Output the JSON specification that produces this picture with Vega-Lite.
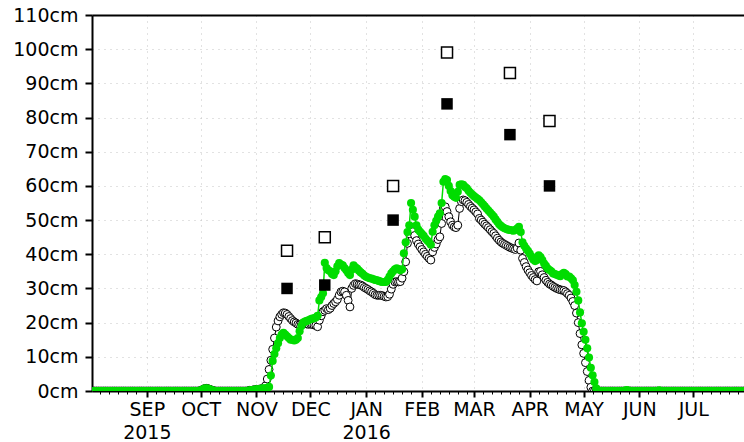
{
"$schema":"https://vega.github.io/schema/vega-lite/v6.json",
"width":652,"height":376,
"autosize":{"type":"none"},
"padding":{"left":92,"top":15,"right":0,"bottom":51},
"background":"white",
"view":{"stroke":null},
"datasets":{
"daily":[
{"t":"2015-08-01","g":0,"b":0},{"t":"2015-08-02","g":0,"b":0},{"t":"2015-08-03","g":0,"b":0},{"t":"2015-08-04","g":0,"b":0},{"t":"2015-08-05","g":0,"b":0},{"t":"2015-08-06","g":0,"b":0},{"t":"2015-08-07","g":0,"b":0},{"t":"2015-08-08","g":0,"b":0},{"t":"2015-08-09","g":0,"b":0},{"t":"2015-08-10","g":0,"b":0},{"t":"2015-08-11","g":0,"b":0},{"t":"2015-08-12","g":0,"b":0},{"t":"2015-08-13","g":0,"b":0},{"t":"2015-08-14","g":0,"b":0},{"t":"2015-08-15","g":0,"b":0},{"t":"2015-08-16","g":0,"b":0},{"t":"2015-08-17","g":0,"b":0},{"t":"2015-08-18","g":0,"b":0},{"t":"2015-08-19","g":0,"b":0},{"t":"2015-08-20","g":0,"b":0},{"t":"2015-08-21","g":0,"b":0},{"t":"2015-08-22","g":0,"b":0},{"t":"2015-08-23","g":0,"b":0},{"t":"2015-08-24","g":0,"b":0},{"t":"2015-08-25","g":0,"b":0},{"t":"2015-08-26","g":0,"b":0},{"t":"2015-08-27","g":0,"b":0},{"t":"2015-08-28","g":0,"b":0},{"t":"2015-08-29","g":0,"b":0},{"t":"2015-08-30","g":0,"b":0},{"t":"2015-08-31","g":0,"b":0},
{"t":"2015-09-01","g":0,"b":0},{"t":"2015-09-02","g":0,"b":0},{"t":"2015-09-03","g":0,"b":0},{"t":"2015-09-04","g":0,"b":0},{"t":"2015-09-05","g":0,"b":0},{"t":"2015-09-06","g":0,"b":0},{"t":"2015-09-07","g":0,"b":0},{"t":"2015-09-08","g":0,"b":0},{"t":"2015-09-09","g":0,"b":0},{"t":"2015-09-10","g":0,"b":0},{"t":"2015-09-11","g":0,"b":0},{"t":"2015-09-12","g":0,"b":0},{"t":"2015-09-13","g":0,"b":0},{"t":"2015-09-14","g":0,"b":0},{"t":"2015-09-15","g":0,"b":0},{"t":"2015-09-16","g":0,"b":0},{"t":"2015-09-17","g":0,"b":0},{"t":"2015-09-18","g":0,"b":0},{"t":"2015-09-19","g":0,"b":0},{"t":"2015-09-20","g":0,"b":0},{"t":"2015-09-21","g":0,"b":0},{"t":"2015-09-22","g":0,"b":0},{"t":"2015-09-23","g":0,"b":0},{"t":"2015-09-24","g":0,"b":0},{"t":"2015-09-25","g":0,"b":0},{"t":"2015-09-26","g":0,"b":0},{"t":"2015-09-27","g":0,"b":0},{"t":"2015-09-28","g":0,"b":0},{"t":"2015-09-29","g":0,"b":0},{"t":"2015-09-30","g":0,"b":0},
{"t":"2015-10-01","g":0.2,"b":0.2},{"t":"2015-10-02","g":0.4,"b":0.4},{"t":"2015-10-03","g":0.7,"b":0.7},{"t":"2015-10-04","g":0.8,"b":0.8},{"t":"2015-10-05","g":0.7,"b":0.7},{"t":"2015-10-06","g":0.5,"b":0.5},{"t":"2015-10-07","g":0.3,"b":0.3},{"t":"2015-10-08","g":0.15,"b":0.15},{"t":"2015-10-09","g":0,"b":0},{"t":"2015-10-10","g":0,"b":0},{"t":"2015-10-11","g":0,"b":0},{"t":"2015-10-12","g":0,"b":0},{"t":"2015-10-13","g":0,"b":0},{"t":"2015-10-14","g":0,"b":0},{"t":"2015-10-15","g":0,"b":0},{"t":"2015-10-16","g":0,"b":0},{"t":"2015-10-17","g":0,"b":0},{"t":"2015-10-18","g":0,"b":0},{"t":"2015-10-19","g":0,"b":0},{"t":"2015-10-20","g":0,"b":0},{"t":"2015-10-21","g":0,"b":0},{"t":"2015-10-22","g":0,"b":0},{"t":"2015-10-23","g":0,"b":0},{"t":"2015-10-24","g":0,"b":0},{"t":"2015-10-25","g":0,"b":0},{"t":"2015-10-26","g":0,"b":0},{"t":"2015-10-27","g":0,"b":0},{"t":"2015-10-28","g":0.2,"b":0.2},{"t":"2015-10-29","g":0.2,"b":0.2},{"t":"2015-10-30","g":0.3,"b":0.3},{"t":"2015-10-31","g":0.4,"b":0.4},
{"t":"2015-11-01","g":0.5,"b":0.5},{"t":"2015-11-02","g":0.5,"b":0.5},{"t":"2015-11-03","g":0.6,"b":0.6},{"t":"2015-11-04","g":0.7,"b":0.7},{"t":"2015-11-05","g":0.8,"b":0.8},{"t":"2015-11-06","g":0.8,"b":1.5},{"t":"2015-11-07","g":0.9,"b":3.5},{"t":"2015-11-08","g":1.2,"b":6.3},{"t":"2015-11-09","g":4.5,"b":9},{"t":"2015-11-10","g":8.8,"b":12.2},{"t":"2015-11-11","g":10.8,"b":15.5},{"t":"2015-11-12","g":12.5,"b":18.7},{"t":"2015-11-13","g":14,"b":20.5},{"t":"2015-11-14","g":15.5,"b":21.7},{"t":"2015-11-15","g":16.5,"b":22.4},{"t":"2015-11-16","g":17,"b":22.9},{"t":"2015-11-17","g":16.5,"b":22.8},{"t":"2015-11-18","g":16,"b":22.4},{"t":"2015-11-19","g":15.5,"b":21.8},{"t":"2015-11-20","g":15,"b":21.2},{"t":"2015-11-21","g":15,"b":20.6},{"t":"2015-11-22","g":14.8,"b":20.2},{"t":"2015-11-23","g":15,"b":19.9},{"t":"2015-11-24","g":15.5,"b":19.5},{"t":"2015-11-25","g":17.5,"b":19.4},{"t":"2015-11-26","g":19,"b":19.6},{"t":"2015-11-27","g":20,"b":19.7},{"t":"2015-11-28","g":20.3,"b":19.7},{"t":"2015-11-29","g":20.5,"b":19.6},{"t":"2015-11-30","g":20.7,"b":19.5},
{"t":"2015-12-01","g":21,"b":19.6},{"t":"2015-12-02","g":21.2,"b":19.5},{"t":"2015-12-03","g":21.3,"b":19.3},{"t":"2015-12-04","g":21.5,"b":19.2},{"t":"2015-12-05","g":22,"b":18.8},{"t":"2015-12-06","g":26.5,"b":20.7},{"t":"2015-12-07","g":27.5,"b":22},{"t":"2015-12-08","g":28.6,"b":23.2},{"t":"2015-12-09","g":37.5,"b":23.6},{"t":"2015-12-10","g":36,"b":24.1},{"t":"2015-12-11","g":35.3,"b":23.8},{"t":"2015-12-12","g":35,"b":24.2},{"t":"2015-12-13","g":34.2,"b":25},{"t":"2015-12-14","g":33.9,"b":25.6},{"t":"2015-12-15","g":35,"b":26.1},{"t":"2015-12-16","g":36.5,"b":26.8},{"t":"2015-12-17","g":37.4,"b":28},{"t":"2015-12-18","g":37,"b":29},{"t":"2015-12-19","g":36.8,"b":29.2},{"t":"2015-12-20","g":36,"b":29},{"t":"2015-12-21","g":35.3,"b":28},{"t":"2015-12-22","g":34.5,"b":26.5},{"t":"2015-12-23","g":33.9,"b":24.6},{"t":"2015-12-24","g":35.5,"b":30},{"t":"2015-12-25","g":36.8,"b":30.9},{"t":"2015-12-26","g":36.2,"b":31.4},{"t":"2015-12-27","g":35.8,"b":31.3},{"t":"2015-12-28","g":35.2,"b":31.1},{"t":"2015-12-29","g":34.7,"b":31},{"t":"2015-12-30","g":34.3,"b":30.7},{"t":"2015-12-31","g":33.8,"b":30.3},
{"t":"2016-01-01","g":33.4,"b":30},{"t":"2016-01-02","g":33.2,"b":29.7},{"t":"2016-01-03","g":33,"b":29.3},{"t":"2016-01-04","g":32.9,"b":29},{"t":"2016-01-05","g":32.7,"b":28.6},{"t":"2016-01-06","g":32.5,"b":28.2},{"t":"2016-01-07","g":32.4,"b":28},{"t":"2016-01-08","g":32.2,"b":28},{"t":"2016-01-09","g":32,"b":28},{"t":"2016-01-10","g":31.9,"b":27.9},{"t":"2016-01-11","g":31.9,"b":27.7},{"t":"2016-01-12","g":31.9,"b":27.5},{"t":"2016-01-13","g":32.5,"b":27.6},{"t":"2016-01-14","g":33.5,"b":28.3},{"t":"2016-01-15","g":34.4,"b":29.8},{"t":"2016-01-16","g":35,"b":31.2},{"t":"2016-01-17","g":35.6,"b":31.9},{"t":"2016-01-18","g":35.9,"b":32},{"t":"2016-01-19","g":35.7,"b":31.9},{"t":"2016-01-20","g":35.3,"b":32},{"t":"2016-01-21","g":35.6,"b":33},{"t":"2016-01-22","g":40.3,"b":34.9},{"t":"2016-01-23","g":43.5,"b":37.8},{"t":"2016-01-24","g":46.5,"b":43.2},{"t":"2016-01-25","g":48.5,"b":46},{"t":"2016-01-26","g":55,"b":48},{"t":"2016-01-27","g":53,"b":46.6},{"t":"2016-01-28","g":51,"b":45.5},{"t":"2016-01-29","g":48.5,"b":44},{"t":"2016-01-30","g":47.2,"b":43},{"t":"2016-01-31","g":46.6,"b":42.2},
{"t":"2016-02-01","g":46,"b":41.4},{"t":"2016-02-02","g":45.4,"b":40.7},{"t":"2016-02-03","g":44.6,"b":40},{"t":"2016-02-04","g":44,"b":39.4},{"t":"2016-02-05","g":43.5,"b":38.8},{"t":"2016-02-06","g":42.8,"b":38.3},{"t":"2016-02-07","g":46.6,"b":40.7},{"t":"2016-02-08","g":48.5,"b":42},{"t":"2016-02-09","g":49.8,"b":43},{"t":"2016-02-10","g":51,"b":44.3},{"t":"2016-02-11","g":52,"b":45.1},{"t":"2016-02-12","g":55,"b":49},{"t":"2016-02-13","g":61.2,"b":53.5},{"t":"2016-02-14","g":62,"b":53.9},{"t":"2016-02-15","g":61.7,"b":52.5},{"t":"2016-02-16","g":60,"b":51},{"t":"2016-02-17","g":58.5,"b":49.5},{"t":"2016-02-18","g":57.3,"b":48.5},{"t":"2016-02-19","g":56.8,"b":48},{"t":"2016-02-20","g":56.5,"b":47.8},{"t":"2016-02-21","g":58.3,"b":48.5},{"t":"2016-02-22","g":60.3,"b":53.4},{"t":"2016-02-23","g":60.5,"b":55.4},{"t":"2016-02-24","g":60.3,"b":55.9},{"t":"2016-02-25","g":59.7,"b":55.7},{"t":"2016-02-26","g":59.3,"b":55.2},{"t":"2016-02-27","g":58.6,"b":54.6},{"t":"2016-02-28","g":58,"b":54},{"t":"2016-02-29","g":57.5,"b":53.5},
{"t":"2016-03-01","g":57,"b":53},{"t":"2016-03-02","g":56.6,"b":52.4},{"t":"2016-03-03","g":56.2,"b":51.8},{"t":"2016-03-04","g":55.8,"b":50.5},{"t":"2016-03-05","g":55.2,"b":50},{"t":"2016-03-06","g":54.6,"b":49.4},{"t":"2016-03-07","g":54,"b":48.8},{"t":"2016-03-08","g":53.4,"b":48.3},{"t":"2016-03-09","g":52.8,"b":47.8},{"t":"2016-03-10","g":52.2,"b":47.2},{"t":"2016-03-11","g":51.6,"b":46.6},{"t":"2016-03-12","g":51,"b":46.1},{"t":"2016-03-13","g":50.2,"b":45.4},{"t":"2016-03-14","g":49.5,"b":44.7},{"t":"2016-03-15","g":48.8,"b":44.1},{"t":"2016-03-16","g":48.3,"b":43.6},{"t":"2016-03-17","g":47.9,"b":43.2},{"t":"2016-03-18","g":47.6,"b":42.9},{"t":"2016-03-19","g":47.4,"b":42.6},{"t":"2016-03-20","g":47.2,"b":42.3},{"t":"2016-03-21","g":47.1,"b":42},{"t":"2016-03-22","g":47,"b":41.8},{"t":"2016-03-23","g":46.9,"b":41.6},{"t":"2016-03-24","g":47.1,"b":41.4},{"t":"2016-03-25","g":47.5,"b":41.8},{"t":"2016-03-26","g":48,"b":43.3},{"t":"2016-03-27","g":46.5,"b":41.2},{"t":"2016-03-28","g":43.5,"b":38.8},{"t":"2016-03-29","g":42.5,"b":37.6},{"t":"2016-03-30","g":41.7,"b":36.4},{"t":"2016-03-31","g":41,"b":35.4},
{"t":"2016-04-01","g":40.2,"b":34.6},{"t":"2016-04-02","g":39.3,"b":33.8},{"t":"2016-04-03","g":38.5,"b":33.2},{"t":"2016-04-04","g":38,"b":32.6},{"t":"2016-04-05","g":38.3,"b":32.2},{"t":"2016-04-06","g":39.7,"b":34.9},{"t":"2016-04-07","g":39.2,"b":35},{"t":"2016-04-08","g":38.3,"b":34},{"t":"2016-04-09","g":37.3,"b":33.2},{"t":"2016-04-10","g":36.6,"b":32.4},{"t":"2016-04-11","g":35.8,"b":31.8},{"t":"2016-04-12","g":35.4,"b":31.3},{"t":"2016-04-13","g":35,"b":31},{"t":"2016-04-14","g":34.4,"b":30.6},{"t":"2016-04-15","g":34.2,"b":30.3},{"t":"2016-04-16","g":34,"b":30},{"t":"2016-04-17","g":33.8,"b":29.8},{"t":"2016-04-18","g":33.6,"b":29.6},{"t":"2016-04-19","g":34.2,"b":29.5},{"t":"2016-04-20","g":34.6,"b":29.4},{"t":"2016-04-21","g":34.2,"b":29},{"t":"2016-04-22","g":33.5,"b":28.5},{"t":"2016-04-23","g":33.5,"b":28},{"t":"2016-04-24","g":33,"b":27.2},{"t":"2016-04-25","g":32.4,"b":26.2},{"t":"2016-04-26","g":31,"b":25},{"t":"2016-04-27","g":29,"b":22.8},{"t":"2016-04-28","g":26.5,"b":20},{"t":"2016-04-29","g":23,"b":16.8},{"t":"2016-04-30","g":19.8,"b":13.5},
{"t":"2016-05-01","g":17.3,"b":11},{"t":"2016-05-02","g":15,"b":8.3},{"t":"2016-05-03","g":12.5,"b":5.7},{"t":"2016-05-04","g":9.8,"b":3.1},{"t":"2016-05-05","g":6.8,"b":1.1},{"t":"2016-05-06","g":4.6,"b":0},{"t":"2016-05-07","g":2.6,"b":0},{"t":"2016-05-08","g":0.8,"b":0},{"t":"2016-05-09","g":0,"b":0},{"t":"2016-05-10","g":0,"b":0},{"t":"2016-05-11","g":0,"b":0},{"t":"2016-05-12","g":0,"b":0},{"t":"2016-05-13","g":0,"b":0},{"t":"2016-05-14","g":0,"b":0},{"t":"2016-05-15","g":0,"b":0},{"t":"2016-05-16","g":0,"b":0},{"t":"2016-05-17","g":0,"b":0},{"t":"2016-05-18","g":0,"b":0},{"t":"2016-05-19","g":0,"b":0},{"t":"2016-05-20","g":0,"b":0},{"t":"2016-05-21","g":0,"b":0},{"t":"2016-05-22","g":0,"b":0},{"t":"2016-05-23","g":0,"b":0},{"t":"2016-05-24","g":0.1,"b":0},{"t":"2016-05-25","g":0.3,"b":0},{"t":"2016-05-26","g":0.1,"b":0},{"t":"2016-05-27","g":0,"b":0},{"t":"2016-05-28","g":0,"b":0},{"t":"2016-05-29","g":0,"b":0},{"t":"2016-05-30","g":0,"b":0},{"t":"2016-05-31","g":0,"b":0},
{"t":"2016-06-01","g":0,"b":0},{"t":"2016-06-02","g":0,"b":0},{"t":"2016-06-03","g":0,"b":0},{"t":"2016-06-04","g":0,"b":0},{"t":"2016-06-05","g":0,"b":0},{"t":"2016-06-06","g":0,"b":0},{"t":"2016-06-07","g":0,"b":0},{"t":"2016-06-08","g":0,"b":0},{"t":"2016-06-09","g":0,"b":0},{"t":"2016-06-10","g":0,"b":0},{"t":"2016-06-11","g":0,"b":0},{"t":"2016-06-12","g":0.2,"b":0},{"t":"2016-06-13","g":0,"b":0},{"t":"2016-06-14","g":0,"b":0},{"t":"2016-06-15","g":0,"b":0},{"t":"2016-06-16","g":0,"b":0},{"t":"2016-06-17","g":0,"b":0},{"t":"2016-06-18","g":0,"b":0},{"t":"2016-06-19","g":0,"b":0},{"t":"2016-06-20","g":0,"b":0},{"t":"2016-06-21","g":0,"b":0},{"t":"2016-06-22","g":0,"b":0},{"t":"2016-06-23","g":0,"b":0},{"t":"2016-06-24","g":0,"b":0},{"t":"2016-06-25","g":0,"b":0},{"t":"2016-06-26","g":0,"b":0},{"t":"2016-06-27","g":0,"b":0},{"t":"2016-06-28","g":0,"b":0},{"t":"2016-06-29","g":0,"b":0},{"t":"2016-06-30","g":0,"b":0},
{"t":"2016-07-01","g":0,"b":0},{"t":"2016-07-02","g":0,"b":0},{"t":"2016-07-03","g":0,"b":0},{"t":"2016-07-04","g":0,"b":0},{"t":"2016-07-05","g":0,"b":0},{"t":"2016-07-06","g":0,"b":0},{"t":"2016-07-07","g":0,"b":0},{"t":"2016-07-08","g":0,"b":0},{"t":"2016-07-09","g":0,"b":0},{"t":"2016-07-10","g":0,"b":0},{"t":"2016-07-11","g":0,"b":0},{"t":"2016-07-12","g":0,"b":0},{"t":"2016-07-13","g":0,"b":0},{"t":"2016-07-14","g":0,"b":0},{"t":"2016-07-15","g":0,"b":0},{"t":"2016-07-16","g":0,"b":0},{"t":"2016-07-17","g":0,"b":0},{"t":"2016-07-18","g":0,"b":0},{"t":"2016-07-19","g":0,"b":0},{"t":"2016-07-20","g":0,"b":0},{"t":"2016-07-21","g":0,"b":0},{"t":"2016-07-22","g":0,"b":0},{"t":"2016-07-23","g":0,"b":0},{"t":"2016-07-24","g":0,"b":0},{"t":"2016-07-25","g":0,"b":0},{"t":"2016-07-26","g":0,"b":0},{"t":"2016-07-27","g":0,"b":0},{"t":"2016-07-28","g":0,"b":0},{"t":"2016-07-29","g":0,"b":0}
],
"obs":[
{"t":"2015-11-18","open":41,"fill":30},
{"t":"2015-12-09","open":45,"fill":31},
{"t":"2016-01-16","open":60,"fill":50},
{"t":"2016-02-15","open":99,"fill":84},
{"t":"2016-03-21","open":93,"fill":75},
{"t":"2016-04-12","open":79,"fill":60}
]
},
"encoding":{
"x":{"field":"t","type":"temporal",
 "scale":{"type":"utc","domain":[{"year":2015,"month":8,"date":1,"hours":12,"utc":true},{"year":2016,"month":7,"date":29,"hours":5,"utc":true}]},
 "axis":{"orient":"bottom","title":null,
  "values":[
{"year":2015,"month":8,"date":6,"utc":true},{"year":2015,"month":8,"date":11,"utc":true},{"year":2015,"month":8,"date":16,"utc":true},{"year":2015,"month":8,"date":21,"utc":true},{"year":2015,"month":8,"date":26,"utc":true},
{"year":2015,"month":9,"date":1,"utc":true},{"year":2015,"month":9,"date":6,"utc":true},{"year":2015,"month":9,"date":11,"utc":true},{"year":2015,"month":9,"date":16,"utc":true},{"year":2015,"month":9,"date":21,"utc":true},{"year":2015,"month":9,"date":26,"utc":true},
{"year":2015,"month":10,"date":1,"utc":true},{"year":2015,"month":10,"date":6,"utc":true},{"year":2015,"month":10,"date":11,"utc":true},{"year":2015,"month":10,"date":16,"utc":true},{"year":2015,"month":10,"date":21,"utc":true},{"year":2015,"month":10,"date":26,"utc":true},
{"year":2015,"month":11,"date":1,"utc":true},{"year":2015,"month":11,"date":6,"utc":true},{"year":2015,"month":11,"date":11,"utc":true},{"year":2015,"month":11,"date":16,"utc":true},{"year":2015,"month":11,"date":21,"utc":true},{"year":2015,"month":11,"date":26,"utc":true},
{"year":2015,"month":12,"date":1,"utc":true},{"year":2015,"month":12,"date":6,"utc":true},{"year":2015,"month":12,"date":11,"utc":true},{"year":2015,"month":12,"date":16,"utc":true},{"year":2015,"month":12,"date":21,"utc":true},{"year":2015,"month":12,"date":26,"utc":true},
{"year":2016,"month":1,"date":1,"utc":true},{"year":2016,"month":1,"date":6,"utc":true},{"year":2016,"month":1,"date":11,"utc":true},{"year":2016,"month":1,"date":16,"utc":true},{"year":2016,"month":1,"date":21,"utc":true},{"year":2016,"month":1,"date":26,"utc":true},
{"year":2016,"month":2,"date":1,"utc":true},{"year":2016,"month":2,"date":6,"utc":true},{"year":2016,"month":2,"date":11,"utc":true},{"year":2016,"month":2,"date":16,"utc":true},{"year":2016,"month":2,"date":21,"utc":true},{"year":2016,"month":2,"date":26,"utc":true},
{"year":2016,"month":3,"date":1,"utc":true},{"year":2016,"month":3,"date":6,"utc":true},{"year":2016,"month":3,"date":11,"utc":true},{"year":2016,"month":3,"date":16,"utc":true},{"year":2016,"month":3,"date":21,"utc":true},{"year":2016,"month":3,"date":26,"utc":true},
{"year":2016,"month":4,"date":1,"utc":true},{"year":2016,"month":4,"date":6,"utc":true},{"year":2016,"month":4,"date":11,"utc":true},{"year":2016,"month":4,"date":16,"utc":true},{"year":2016,"month":4,"date":21,"utc":true},{"year":2016,"month":4,"date":26,"utc":true},
{"year":2016,"month":5,"date":1,"utc":true},{"year":2016,"month":5,"date":6,"utc":true},{"year":2016,"month":5,"date":11,"utc":true},{"year":2016,"month":5,"date":16,"utc":true},{"year":2016,"month":5,"date":21,"utc":true},{"year":2016,"month":5,"date":26,"utc":true},
{"year":2016,"month":6,"date":1,"utc":true},{"year":2016,"month":6,"date":6,"utc":true},{"year":2016,"month":6,"date":11,"utc":true},{"year":2016,"month":6,"date":16,"utc":true},{"year":2016,"month":6,"date":21,"utc":true},{"year":2016,"month":6,"date":26,"utc":true},
{"year":2016,"month":7,"date":1,"utc":true},{"year":2016,"month":7,"date":6,"utc":true},{"year":2016,"month":7,"date":11,"utc":true},{"year":2016,"month":7,"date":16,"utc":true},{"year":2016,"month":7,"date":21,"utc":true},{"year":2016,"month":7,"date":26,"utc":true}
  ],
  "labelExpr":"utcdate(datum.value)!=1 ? '' : ((utcmonth(datum.value)==8 || utcmonth(datum.value)==0) ? [upper(utcFormat(datum.value,'%b')), utcFormat(datum.value,'%Y')] : upper(utcFormat(datum.value,'%b')))",
  "labelFont":"DejaVu Sans","labelFontSize":19,"labelColor":"black","labelPadding":3,"labelLineHeight":23,
  "labelOverlap":false,"labelFlush":false,"labelBound":false,
  "tickSize":{"condition":{"test":"utcdate(datum.value)==1","value":6},"value":3},
  "tickWidth":{"condition":{"test":"utcdate(datum.value)==1","value":2},"value":1},
  "tickColor":"black",
  "domainColor":"black","domainWidth":2,
  "grid":true,"gridColor":"#c4c4c4","gridDash":[1,5],"gridWidth":1,
  "gridOpacity":{"condition":{"test":"utcdate(datum.value)==1","value":1},"value":0}}},
"y":{"field":"v","type":"quantitative","scale":{"domain":[0,110],"nice":false},
 "axis":{"title":null,"values":[0,10,20,30,40,50,60,70,80,90,100,110],"labelExpr":"datum.value + 'cm'",
  "labelFont":"DejaVu Sans","labelFontSize":19,"labelColor":"black","labelPadding":7,"labelBaseline":"middle",
  "tickSize":7,"tickWidth":2,"tickColor":"black","domainColor":"black","domainWidth":2,
  "grid":true,
  "gridColor":{"condition":{"test":"datum.value==110","value":"black"},"value":"#c4c4c4"},
  "gridDash":{"condition":{"test":"datum.value==110","value":[]},"value":[1,5]},
  "gridWidth":{"condition":{"test":"datum.value==110","value":2},"value":1}}}
},
"layer":[
{"data":{"name":"daily"},
 "transform":[{"fold":["b","g"],"as":["s","v"]},{"filter":"datum.s=='b'"}],
 "mark":{"type":"line","color":"black","strokeWidth":1,"clip":true}},
{"data":{"name":"daily"},
 "transform":[{"fold":["b","g"],"as":["s","v"]},{"filter":"datum.s=='b'"}],
 "mark":{"type":"point","shape":"circle","filled":true,"fill":"white","stroke":"black","strokeWidth":1,"size":62,"opacity":1,"clip":true}},
{"data":{"name":"daily"},
 "transform":[{"fold":["b","g"],"as":["s","v"]},{"filter":"datum.s=='g'"}],
 "mark":{"type":"line","color":"#00dc00","strokeWidth":1.5,"clip":true}},
{"data":{"name":"daily"},
 "transform":[{"fold":["b","g"],"as":["s","v"]},{"filter":"datum.s=='g'"}],
 "mark":{"type":"circle","color":"#00dc00","size":66,"opacity":1,"clip":true}},
{"data":{"name":"obs"},
 "transform":[{"fold":["open","fill"],"as":["s","v"]},{"filter":"datum.s=='open'"}],
 "mark":{"type":"square","filled":true,"fill":"white","stroke":"black","strokeWidth":1.5,"size":121,"opacity":1}},
{"data":{"name":"obs"},
 "transform":[{"fold":["open","fill"],"as":["s","v"]},{"filter":"datum.s=='fill'"}],
 "mark":{"type":"square","color":"black","size":132,"opacity":1}}
]
}
